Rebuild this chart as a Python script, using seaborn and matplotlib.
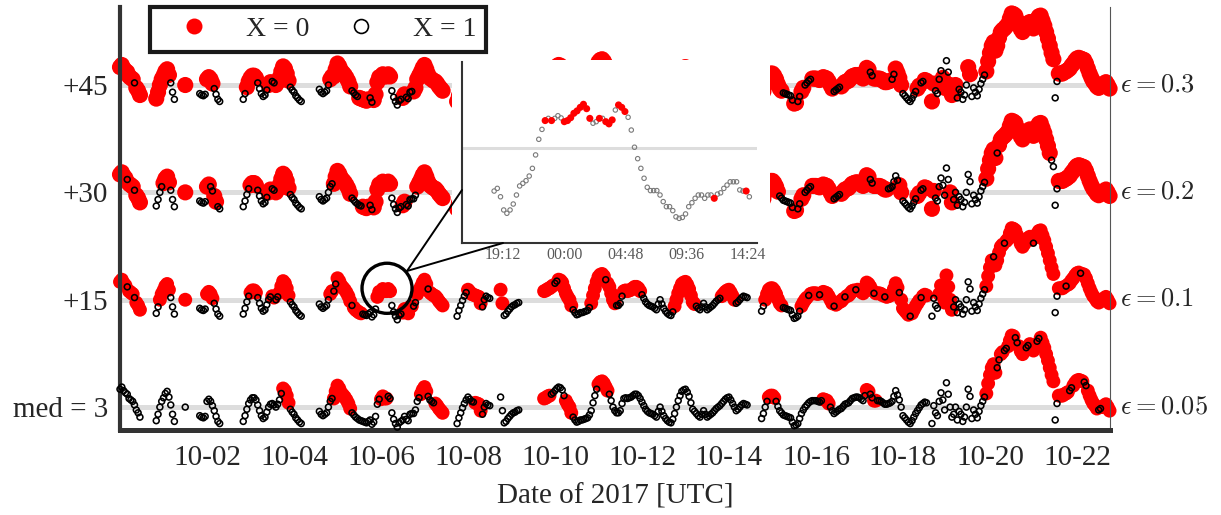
import numpy as np
import pandas as pd
import matplotlib
matplotlib.use("Agg")
import matplotlib.pyplot as plt
import matplotlib.dates as mdates
from matplotlib.lines import Line2D
from matplotlib.patches import Ellipse, Rectangle
import seaborn as sns

nan = np.nan

# ---------------- data ----------------
# base series, hourly samples from 2017-09-30 00:00 UTC, one row per day (median = 3)
series_start = "2017-09-30 00:00"
day_values = [
    [5.5, 5.8, 5.3, 5.0, 4.8, 4.2, 4.0, 3.8, 3.3, 2.6, 2.2, 1.6, nan, nan, nan, nan, nan, nan, nan, nan, 1.1, 2.0, 3.0, 3.8],
    [4.3, 4.9, 5.2, 4.4, 3.3, 2.0, 1.0, nan, nan, nan, nan, nan, 3.0, nan, nan, nan, nan, nan, nan, nan, 1.8, 1.6, 1.5, 1.7],
    [3.8, 4.1, 3.8, 3.2, 2.5, 1.7, 1.0, 0.7, nan, nan, nan, nan, nan, nan, nan, nan, nan, nan, nan, nan, 1.0, 1.8, 2.7, 3.5],
    [4.0, 4.3, 4.3, 4.0, 3.3, 2.5, 1.8, 1.4, 1.6, 2.3, 3.0, 3.4, 3.5, 3.3, 3.0, 3.4, 4.0, 4.9, 5.6, 5.3, 4.6, 3.6, 2.7, 2.3],
    [2.0, 1.5, 1.2, 0.9, 0.7, nan, nan, nan, nan, nan, nan, nan, nan, nan, 2.4, 2.0, 1.8, 2.0, 2.2, 3.0, 3.8, 4.2, 4.2, 5.2],
    [6.0, 5.6, 5.0, 4.7, 4.4, 4.0, 3.5, 2.8, 2.2, 1.9, 1.6, 1.4, 1.2, 1.1, 1.0, 0.9, 0.8, 1.0, 1.2, 0.6, 0.9, 1.7, 3.4, 4.1],
    [4.1, 4.5, 4.2, 4.2, 4.5, 4.2, 2.2, 1.3, 0.7, 0.2, 0.8, 1.0, 1.2, 1.7, 1.3, 1.1, 2.0, 2.1, 2.1, 2.6, 3.8, 4.3, 4.8, 5.4],
    [5.8, 5.2, 4.5, 4.0, 3.8, 3.6, 3.5, 3.2, 2.8, 2.5, 2.2, nan, nan, nan, nan, nan, nan, nan, 0.7, 1.5, 2.2, 2.9, 3.5, 4.0],
    [4.4, 4.1, 3.8, 3.7, 3.6, 3.5, 3.4, 2.5, 2.0, 3.0, 3.5, 3.3, 3.2, nan, nan, nan, nan, nan, 4.4, 2.5, 0.8, 1.0, 1.4, 1.7],
    [2.0, 2.2, 2.3, 2.5, 2.6, nan, nan, nan, nan, nan, nan, nan, nan, nan, nan, nan, nan, nan, 4.2, 4.3, 4.5, 4.6, 4.8, 5.0],
    [5.3, 5.6, 5.8, 5.7, 5.4, 4.6, 3.9, 3.4, 3.0, 2.2, 1.6, 1.2, 0.9, 1.0, 1.2, 1.2, 1.3, 1.4, 1.5, 1.9, 2.5, 3.6, 4.6, 5.5],
    [6.2, 6.5, 6.6, 6.3, 5.8, 5.3, 4.8, 3.9, 3.0, 2.5, 2.2, 2.2, 2.5, 3.5, 4.2, 4.3, 4.2, 4.3, 4.4, 4.6, 4.8, 4.8, 4.6, 4.2],
    [3.7, 3.2, 2.7, 2.4, 2.2, 2.1, 2.0, 1.8, 1.6, 2.4, 3.0, 2.4, 1.8, 1.4, 1.1, 0.9, 0.8, 1.3, 2.1, 3.0, 3.9, 4.6, 5.2, 5.4],
    [5.5, 5.1, 4.5, 3.6, 2.7, 2.4, 2.1, 1.8, 1.6, 2.0, 2.5, 2.0, 1.6, 1.8, 2.0, 2.2, 2.5, 2.8, 3.0, 3.2, 3.5, 3.8, 4.1, 4.3],
    [4.4, 4.0, 3.5, 3.0, 2.5, 2.7, 3.0, 3.3, 3.5, 3.4, 3.3, nan, nan, nan, nan, nan, nan, nan, 1.4, 2.1, 3.0, 3.8, 4.4, 4.6],
    [4.6, 4.3, 3.8, 3.1, 2.5, 2.2, 1.9, 1.8, 1.7, 1.6, 1.5, 0.9, 0.4, 0.5, 0.7, 1.4, 2.1, 2.6, 3.0, 3.3, 3.6, 3.8, 3.9, 3.9],
    [3.9, 3.8, 3.7, 3.9, 4.1, 4.0, 3.9, 3.5, 3.0, 2.5, 2.1, 2.3, 2.5, 2.7, 2.8, 3.1, 3.4, 3.5, 3.6, 3.9, 4.2, 4.3, 4.4, 4.4],
    [4.3, 4.1, 3.9, 4.6, 5.4, 5.2, 4.8, 4.3, 3.9, 3.9, 3.9, 3.9, 3.8, 3.6, 3.4, 3.4, 3.5, 3.6, 3.8, 4.5, 5.3, 4.7, 4.0, 3.0],
    [1.8, 1.5, 1.2, 0.9, 0.7, 1.1, 1.6, 2.1, 2.5, 2.9, 3.3, 3.5, 3.7, 3.6, nan, nan, 0.7, 3.2, 2.2, 1.8, 3.8, 5.0, 4.0, 2.6],
    [6.4, 4.8, 3.0, 1.6, 2.0, 3.0, 1.2, 2.4, 2.0, 1.0, 1.6, 3.0, 5.5, 4.5, 1.4, 2.6, 2.0, 1.5, 2.4, 3.2, 3.8, 4.4, 4.9, 6.3],
    [7.5, 8.5, 9.0, 7.8, 8.5, 9.6, 10.4, 10.7, 10.9, 11.2, 11.5, 12.3, 13.0, 12.9, 12.7, 12.0, 11.5, 10.8, 10.4, 10.8, 11.3, 11.6, 11.8, 11.4],
    [10.9, 11.7, 12.2, 12.6, 12.7, 12.0, 11.3, 10.4, 9.5, 8.5, 7.5, 6.6, 1.2, 3.5, 4.6, 4.6, 4.6, 4.8, 4.9, 5.1, 5.3, 5.7, 6.0, 6.4],
    [6.7, 6.8, 6.7, 6.6, 6.5, 6.0, 5.3, 4.6, 4.0, 3.5, 3.2, 2.8, 2.6, 2.8, 3.0, 3.2, 3.4, 3.0, 2.5],
]

offsets = [0, 15, 30, 45]
offset_labels = ["med = 3", "+15", "+30", "+45"]
eps_labels = ["0.05", "0.1", "0.2", "0.3"]

# X label of every sample ('0' -> X = 0, '1' -> X = 1), per epsilon, one string per day
class_eps005 = [
    "111111111111111111111111", "111111111111111111111111", "111111111111111111111111",
    "111111111111111111000011", "111111111111111111111100", "000000001111111111111111",
    "000011111111111111111100", "001111000000111111111111", "111100001111111111111111",
    "111111111111111111000011", "111111000011111111111111", "000000111111111111111111",
    "111111111111111111111111", "111111111111111111111111", "111111111111111111111100",
    "001111111111111111111111", "111100001111111111111111", "111100110011111111111111",
    "111111111111111111111111", "111111111111111111111100", "000011001100001100001100",
    "001100000000110000001100", "0000110000001100000"]
class_eps01 = [
    "000010001000111111111100", "000011111111001111111111", "000011111111111111111111",
    "000011111111001100000011", "111111111111111111110011", "000000001000001111111100",
    "000000111111000000110000", "001000000000111111111111", "000000001111111111001111",
    "111111111111111111000000", "110000000011111111110000", "000010000011110000000000",
    "111111111111111111000000", "000000111111111111110000", "000011111111111111110000",
    "000000111111111100001000", "001000000010000010000010", "000000001000001000000010",
    "000010000010001111110000", "000011111111111111111100", "001000001000000000000000",
    "100000000000110000100000", "0010000000000000000"]
class_eps02 = [
    "000010001000000000001111", "000011110000000000001111", "001100110000000000001111",
    "000011111100110000000011", "111111000000001111111100", "000000001111110000110000",
    "000000111111001111110000", "000000000000000000000000", "000000000000000000000000",
    "000000000000000000000000", "000000000000000000000000", "000000000000000000000000",
    "000000000000000000000000", "000000000000000000000000", "000000000000000000000000",
    "000011111111001100111100", "000000000011110000000000", "000000110000000011111100",
    "111111110011000000111111", "110011111111111111111100", "000010000000000000000000",
    "000000000011110000000000", "0000000000000000000"]
class_eps03 = [
    "000000001000000000000000", "000011110000000000001111", "000011110000000000001100",
    "000011111100110000000011", "111111000000001111110000", "000000001111000000110000",
    "000000111111001111000000", "000000000000000000000000", "000000000000000000000000",
    "000000000000000000000000", "000000000000000000000000", "000000000000000000000000",
    "000000000000000000000000", "000000000000000000000000", "000000000000000000000000",
    "000000111111001100111100", "000000000011110000000000", "000000110000000000110000",
    "111111110011000000111100", "110000111111001111111100", "000000000000000000000000",
    "000000000000110000000000", "0000000000000000000"]

# inset: 15-minute samples from 2017-10-05 18:30 UTC
inset_start = "2017-10-05 18:30"
inset_values = [1.06, 1.18, 0.80, 0.20, 0.05, 0.20, 0.47, 0.88, 1.29, 1.41,
                1.53, 1.74, 2.09, 2.70, 3.41, 3.86, 4.26, 4.36, 4.26, 4.36,
                4.48, 4.38, 4.21, 4.26, 4.39, 4.59, 4.70, 4.86, 5.00, 4.80,
                4.36, 4.14, 4.21, 4.36, 4.36, 4.21, 4.11, 4.29, 4.74, 4.97,
                4.86, 4.67, 4.41, 3.83, 3.05, 2.53, 2.09, 1.64, 1.23, 1.08,
                1.08, 1.08, 0.88, 0.58, 0.35, 0.35, 0.17, -0.11, -0.18, -0.14,
                0.02, 0.35, 0.53, 0.73, 0.88, 0.88, 0.73, 0.88, 0.88, 0.73,
                0.92, 0.98, 1.18, 1.33, 1.48, 1.48, 1.48, 1.11, 1.06, 1.06,
                0.80]
inset_red = [16, 18, 22, 23, 24, 25, 26, 27, 28, 29, 30, 33, 35, 36, 37,
             39, 40, 41, 69, 79]
inset_tick_labels = ["19:12", "00:00", "04:48", "09:36", "14:24"]

# ---------------- build tables ----------------
vals = np.array([v for row in day_values for v in row], dtype=float)
n = len(vals)
times = pd.date_range(series_start, periods=n, freq="1h")
classes = [class_eps005, class_eps01, class_eps02, class_eps03]

frames = []
for off, cl, eps in zip(offsets, classes, eps_labels):
    s = "".join(cl)
    s = (s + "1" * n)[:n]
    xcls = np.array([int(c) for c in s])
    frames.append(pd.DataFrame({"time": times, "y": vals + off, "X": xcls, "eps": eps}))
df = pd.concat(frames, ignore_index=True).dropna()

ins = pd.DataFrame({"time": pd.date_range(inset_start, periods=len(inset_values), freq="15min"),
                    "v": inset_values})
ins["red"] = False
ins.loc[inset_red, "red"] = True

# ---------------- style ----------------
sns.set_theme(style="white")
plt.rcParams["font.family"] = ["Liberation Serif", "DejaVu Serif"]
plt.rcParams["mathtext.fontset"] = "cm"
TXT = "#262626"
SP = "#333333"

W, H = 1221, 515
fig = plt.figure(figsize=(W / 100, H / 100), dpi=100)
fig.patch.set_facecolor("white")


def fx(px):
    return px / W


def fy(py):
    return 1 - py / H


ax = fig.add_axes([fx(120), fy(430), fx(1110) - fx(120), fy(7) - fy(430)])
ax.set_facecolor("white")

t0 = pd.Timestamp(series_start)
ax.set_xlim(t0, t0 + pd.Timedelta(days=22.76))
ax.set_ylim(-0.2, 58.9)

# median guide lines
ax.hlines([3 + o for o in offsets], t0, t0 + pd.Timedelta(days=22.23),
          color="#dddddd", lw=3.6, zorder=1)

red_sizes = [100, 100, 135, 135]
for (eps, off), s in zip(zip(eps_labels, offsets), red_sizes):
    sub = df[(df.eps == eps) & (df.X == 0)]
    sns.scatterplot(data=sub, x="time", y="y", ax=ax, color="#ff0000", s=s,
                    edgecolor="none", linewidth=0, clip_on=False, zorder=2, legend=False)
for eps in eps_labels:
    sub = df[(df.eps == eps) & (df.X == 1)]
    sns.scatterplot(data=sub, x="time", y="y", ax=ax, color="black", facecolor="none",
                    edgecolor="black", s=18, linewidth=1.15, clip_on=False, zorder=3,
                    legend=False)

# axes cosmetics
ax.spines["top"].set_visible(False)
ax.spines["right"].set_visible(True)
ax.spines["right"].set_linewidth(0.8)
ax.spines["right"].set_color("#555555")
ax.spines["left"].set_linewidth(3.0)
ax.spines["left"].set_color(SP)
ax.spines["bottom"].set_linewidth(3.6)
ax.spines["bottom"].set_color(SP)

major_x = pd.date_range("2017-10-02", "2017-10-22", freq="2D")
minor_x = pd.date_range(t0, t0 + pd.Timedelta(days=22.76), freq="12h")
ax.set_xticks(major_x)
ax.set_xticks(minor_x, minor=True)
ax.xaxis.set_major_formatter(mdates.DateFormatter("%m-%d"))
ax.tick_params(axis="x", which="major", direction="in", length=7, width=2.8,
               color=SP, labelsize=21, labelcolor=TXT, pad=11)
ax.tick_params(axis="x", which="minor", direction="in", length=3.6, width=2.8, color=SP)

ax.set_yticks([3 + o for o in offsets])
ax.set_yticklabels(offset_labels)
ax.set_yticks(np.arange(0, 58, 3), minor=True)
ax.tick_params(axis="y", which="both", direction="in", length=5.5, width=2.8,
               color=SP, labelsize=21, labelcolor=TXT, pad=8.5)

ax.set_xlabel("Date of 2017 [UTC]", fontsize=21, color=TXT, labelpad=9)
ax.set_ylabel("")

for off, eps in zip(offsets, eps_labels):
    ax.text(1.010, 3 + off, r"$\epsilon = %s$" % eps, transform=ax.get_yaxis_transform(),
            ha="left", va="center", fontsize=19, color=TXT)

# legend
handles = [Line2D([], [], marker="o", linestyle="none", markersize=11.5,
                  markerfacecolor="#ff0000", markeredgecolor="none"),
           Line2D([], [], marker="o", linestyle="none", markersize=10,
                  markerfacecolor="none", markeredgecolor="black", markeredgewidth=1.2)]
leg = ax.legend(handles, ["X = 0", "X = 1"], loc="upper left",
                bbox_to_anchor=(fx(150), fy(7)), bbox_transform=fig.transFigure,
                ncol=2, frameon=True, fancybox=False, borderpad=0.35, handlelength=2.5,
                handletextpad=0.6, columnspacing=0.63, fontsize=20, borderaxespad=0)
leg.get_frame().set_edgecolor("#1a1a1a")
leg.get_frame().set_linewidth(3)
leg.get_frame().set_alpha(1)
for t in leg.get_texts():
    t.set_color(TXT)

# callout circle around the zoomed day
cx = mdates.date2num(pd.Timestamp("2017-10-06 03:20"))
ax.add_patch(Ellipse((cx, 19.6), width=1.15, height=7.0, fill=False,
                     edgecolor="black", lw=2.4, zorder=4, clip_on=False))

# white background behind the inset
fig.add_artist(Rectangle((fx(452), fy(267)), fx(770) - fx(452), fy(60) - fy(267),
                         transform=fig.transFigure, facecolor="white",
                         edgecolor="none", zorder=0.5))

# inset
axi = fig.add_axes([fx(462), fy(243), fx(757) - fx(462), fy(62) - fy(243)])
axi.set_zorder(1)
axi.set_facecolor("white")
axi.axhline(3, color="#dddddd", lw=2.2, zorder=1)
sns.scatterplot(data=ins[~ins.red], x="time", y="v", ax=axi, color="#7a7a7a",
                facecolor="none", edgecolor="#7a7a7a", s=10, linewidth=0.8,
                zorder=2, legend=False)
sns.scatterplot(data=ins[ins.red], x="time", y="v", ax=axi, color="#ff0000",
                edgecolor="none", s=26, linewidth=0, zorder=3, legend=False)
axi.set_xlim(pd.Timestamp("2017-10-05 15:59"), pd.Timestamp("2017-10-06 15:06"))
axi.set_ylim(-1.30, 6.92)
axi.set_xticks(pd.date_range("2017-10-05 19:12", periods=5, freq="288min"))
axi.set_xticklabels(inset_tick_labels)
axi.set_xticks(pd.date_range("2017-10-05 16:48", "2017-10-06 15:00", freq="72min"), minor=True)
axi.set_yticks([0, 3, 6])
axi.set_yticklabels([])
for side in ["top", "right"]:
    axi.spines[side].set_visible(False)
for side in ["left", "bottom"]:
    axi.spines[side].set_linewidth(1.5)
    axi.spines[side].set_color(SP)
axi.tick_params(axis="x", which="major", direction="in", length=3.5, width=1.2,
                color=SP, labelsize=11.5, labelcolor="#5a5a5a", pad=3)
axi.tick_params(axis="x", which="minor", direction="in", length=2, width=1.0, color=SP)
axi.tick_params(axis="y", which="both", direction="in", length=2.5, width=1.2, color=SP)
axi.set_xlabel("")
axi.set_ylabel("")

# connector lines from the circle to the inset
for (x1, y1), (x2, y2) in [((407, 271), (462, 190)), ((407, 271), (503, 243))]:
    fig.add_artist(Line2D([fx(x1), fx(x2)], [fy(y1), fy(y2)], transform=fig.transFigure,
                          color="black", lw=1.4, zorder=2))

fig.savefig("out.png", dpi=100, facecolor="white")
